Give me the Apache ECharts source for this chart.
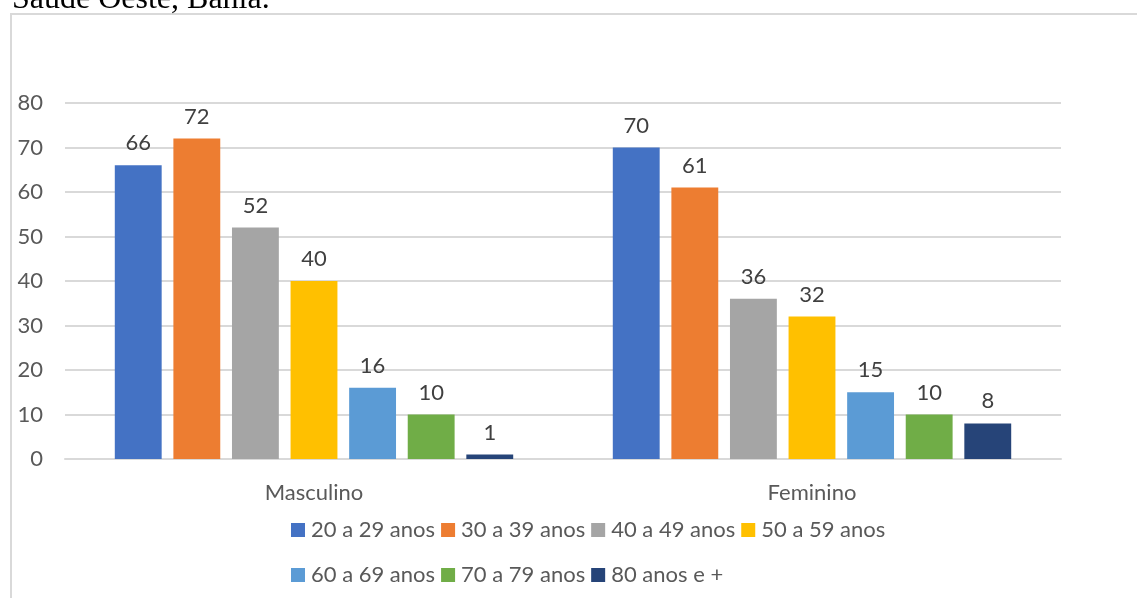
<!DOCTYPE html>
<html>
<head>
<meta charset="utf-8">
<script src="https://cdn.jsdelivr.net/npm/echarts@6/dist/echarts.min.js"></script>
<style>
  html, body { margin: 0; padding: 0; background: #fff; }
  #chart { width: 1137px; height: 598px; }
</style>
</head>
<body>
<div id="chart"></div>
<script>
const categories = ['Masculino', 'Feminino'];
const ageGroups = ['20 a 29 anos', '30 a 39 anos', '40 a 49 anos', '50 a 59 anos', '60 a 69 anos', '70 a 79 anos', '80 anos e +'];
const age20to29 = [66, 70];
const age30to39 = [72, 61];
const age40to49 = [52, 36];
const age50to59 = [40, 32];
const age60to69 = [16, 15];
const age70to79 = [10, 10];
const age80plus = [1, 8];
const yTicks = [0, 10, 20, 30, 40, 50, 60, 70, 80];

const seriesValues = [age20to29, age30to39, age40to49, age50to59, age60to69, age70to79, age80plus];
const colors = ['#4472C4', '#ED7D31', '#A5A5A5', '#FFC000', '#5B9BD5', '#70AD47', '#264478'];
const font = 'Lato, "Liberation Sans", sans-serif';
const fs = 22;

const chart = echarts.init(document.getElementById('chart'));

const legendBase = {
  left: 286,
  itemWidth: 14, itemHeight: 14, itemGap: 6,
  icon: 'rect',
  textStyle: { fontFamily: font, fontSize: fs, color: '#595959', padding: [0, 0, 0, 1] }
};

const option = {
  animation: false,
  color: colors,
  grid: { left: 65, right: 76, top: 103, bottom: 139 },
  title: {
    text: 'Saúde Oeste, Bahia.',
    left: 12,
    top: -16,
    padding: 0,
    textStyle: { fontFamily: '"Liberation Serif", serif', fontSize: 32, fontWeight: 'normal', color: '#000' }
  },
  graphic: [
    {
      type: 'rect',
      shape: { x: 11, y: 14, width: 1200, height: 700 },
      style: { fill: 'none', stroke: '#d9d9d9', lineWidth: 2 }
    }
  ],
  legend: [
    Object.assign({ data: ageGroups.slice(0, 4), top: 514 }, legendBase),
    Object.assign({ data: ageGroups.slice(4), top: 559 }, legendBase)
  ],
  xAxis: {
    type: 'category',
    data: categories,
    axisLine: { lineStyle: { color: '#d9d9d9', width: 2 } },
    axisTick: { show: false },
    axisLabel: { fontFamily: font, fontSize: fs, color: '#595959', margin: 23 }
  },
  yAxis: {
    type: 'value',
    min: yTicks[0],
    max: yTicks[yTicks.length - 1],
    interval: 10,
    axisLine: { show: false },
    axisTick: { show: false },
    axisLabel: { fontFamily: font, fontSize: fs, color: '#595959', margin: 22 },
    splitLine: { lineStyle: { color: '#d9d9d9', width: 2 } }
  },
  series: ageGroups.map((name, i) => ({
    name,
    type: 'bar',
    data: seriesValues[i],
    barGap: '25%',
    barCategoryGap: '20%',
    label: {
      show: true,
      position: 'top',
      distance: 11,
      fontFamily: font,
      fontSize: fs,
      color: '#404040'
    }
  }))
};

chart.setOption(option);
</script>
</body>
</html>
